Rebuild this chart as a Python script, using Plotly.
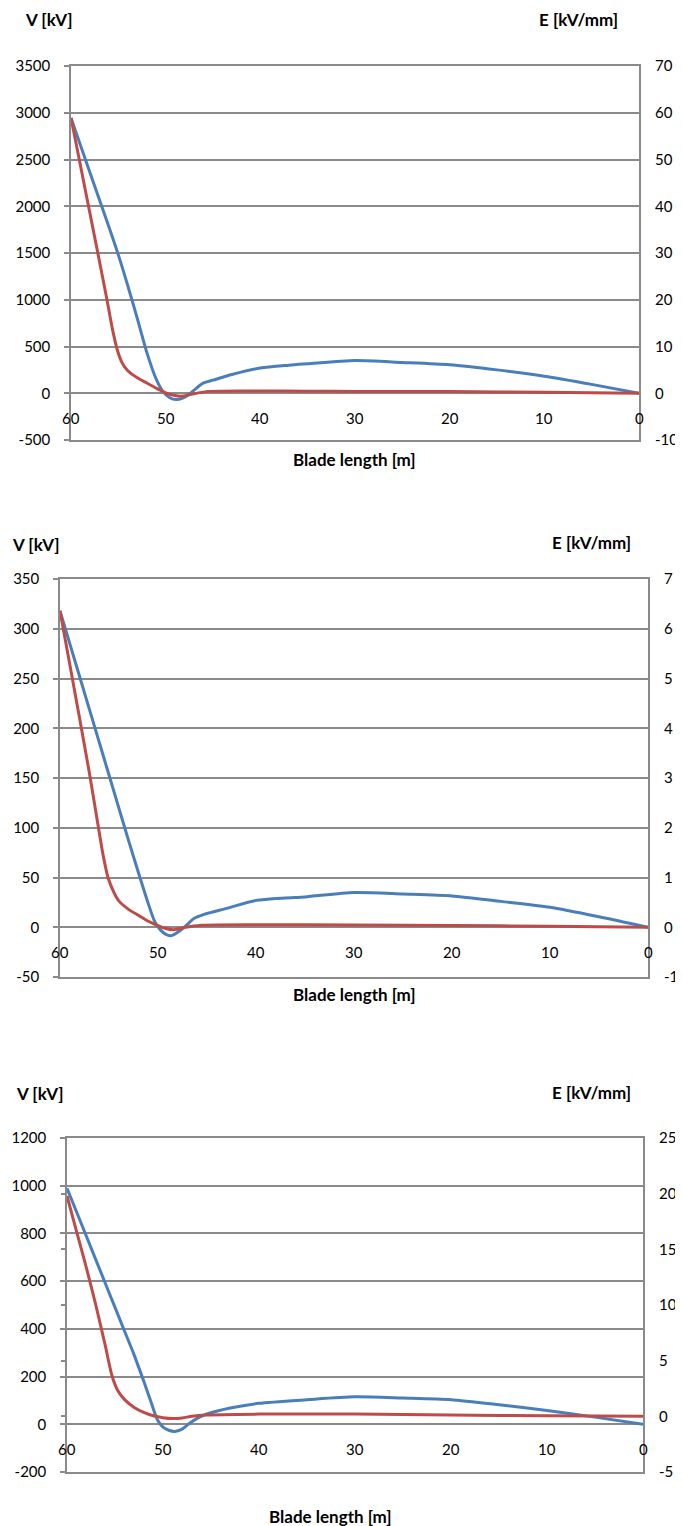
import plotly.graph_objects as go

PAGE_W, PAGE_H = 683, 1526
OFF = 8  # default body margin of the page
W, H = PAGE_W - OFF, PAGE_H - OFF

# ---------------- data ----------------
x_ticks = [60, 50, 40, 30, 20, 10, 0]

# Chart 1
x1_v = [60, 58, 56, 55, 54, 53, 52, 51, 50.3, 49.6, 48.9, 48.2, 47.5, 46.8, 46, 45, 43, 40, 37, 35, 30, 25, 20, 15, 10, 5, 0]
v1 = [2945, 2360, 1780, 1480, 1150, 800, 440, 150, 20, -45, -68, -52, -10, 50, 110, 140, 200, 270, 300, 315, 350, 330, 305, 250, 182, 95, 0]
x1_e = [60, 59, 58, 57, 56.2, 55.6, 55.1, 54.6, 54, 53, 52, 51, 50, 49, 48.2, 47, 45.5, 40, 35, 30, 20, 10, 0]
e1 = [58.9, 48.7, 38.5, 28.3, 20, 13.5, 9.2, 6.5, 4.8, 3.3, 2.2, 1.1, 0.1, -0.5, -0.6, -0.1, 0.4, 0.5, 0.45, 0.4, 0.35, 0.2, 0]

# Chart 2
x2_v = [60, 58, 56, 55, 54, 53, 52, 51, 50.3, 49.5, 48.7, 48, 47.2, 46.3, 45.3, 43, 40, 37, 35, 30, 25, 20, 15, 10, 5, 0]
v2 = [318, 252, 186, 153, 120, 87, 55, 24, 5, -5, -8.5, -5, 1, 9, 13, 19, 27, 29.5, 30.5, 35, 33.5, 31.5, 26, 20, 10.5, 0]
x2_e = [60, 59, 58, 57, 56.2, 55.6, 55.1, 54.5, 54, 53, 52, 51, 50.2, 49.3, 48.4, 47.2, 45.5, 40, 30, 20, 10, 0]
e2 = [6.36, 5.28, 4.2, 3.1, 2.15, 1.45, 1.0, 0.7, 0.53, 0.36, 0.24, 0.12, 0.05, -0.02, -0.05, 0, 0.04, 0.05, 0.045, 0.035, 0.02, 0]

# Chart 3
x3_v = [60, 58, 56, 55, 54, 53, 52, 51.3, 50.6, 50, 49.4, 48.8, 48, 47.2, 46.3, 45.5, 43, 40, 35, 30, 25, 20, 15, 10, 5, 0]
v3 = [989, 790, 590, 490, 390, 290, 180, 100, 20, -12, -25, -30, -20, 5, 28, 42, 68, 88, 103, 115, 110, 103, 82, 58, 30, 0]
x3_e = [60, 59, 58, 57, 56, 55.3, 54.7, 54, 53, 52, 51, 50, 49, 48, 47, 45.5, 40, 30, 20, 10, 0]
e3 = [19.8, 16.6, 13.4, 10.0, 6.3, 3.6, 2.3, 1.5, 0.8, 0.35, 0.05, -0.12, -0.2, -0.15, 0.0, 0.12, 0.2, 0.2, 0.12, 0.05, 0]

left_ticks = [[-500, 0, 500, 1000, 1500, 2000, 2500, 3000, 3500],
              [-50, 0, 50, 100, 150, 200, 250, 300, 350],
              [-200, 0, 200, 400, 600, 800, 1000, 1200]]
right_ticks = [[-10, 0, 10, 20, 30, 40, 50, 60, 70],
               [-1, 0, 1, 2, 3, 4, 5, 6, 7],
               [-5, 0, 5, 10, 15, 20, 25]]

y_title = "V [kV]"
y2_title = "E [kV/mm]"
x_title = "Blade length [m]"

# ---------------- style ----------------
BLUE = "#4a7ebb"
RED = "#be4b48"
GRID = "#8a8a8a"
FONT = "Lato"
FS = 15
TFS = 17

# plot areas in page pixels: (left, right, top, bottom)
boxes = [(71, 639, 66, 440), (60, 648, 579, 977), (67, 643, 1138, 1472)]
titles_pos = [((23, 20), (537, 20)), ((10, 545), (550, 542)), ((14, 1093), (550, 1092))]
xtitle_pos = [(354, 459), (354, 994), (330, 1516)]


def fx(p):
    return (p - OFF) / W


def fy(p):
    return 1 - (p - OFF) / H


def lab(v):
    return str(v)  # ASCII hyphen-minus as in the original


fig = go.Figure()
series = [(x1_v, v1, x1_e, e1), (x2_v, v2, x2_e, e2), (x3_v, v3, x3_e, e3)]

layout = dict(
    width=W, height=H, margin=dict(l=0, r=0, t=0, b=0, autoexpand=False),
    paper_bgcolor="white", plot_bgcolor="white", showlegend=False,
    font=dict(family=FONT, size=FS, color="#000000"),
)
annotations = []

for i, (xv, yv, xe, ye) in enumerate(series):
    xa = "x" if i == 0 else f"x{i+1}"
    ya_l = f"y{2*i+1}" if i > 0 else "y"
    ya_r = f"y{2*i+2}"
    xkey = "xaxis" if i == 0 else f"xaxis{i+1}"
    ykey_l = "yaxis" if i == 0 else f"yaxis{2*i+1}"
    ykey_r = f"yaxis{2*i+2}"
    l, r, t, b = boxes[i]

    fig.add_trace(go.Scatter(x=xv, y=yv, xaxis=xa, yaxis=ya_l, mode="lines",
                             line=dict(color=BLUE, width=3, shape="spline", smoothing=0.7),
                             hoverinfo="skip"))
    fig.add_trace(go.Scatter(x=xe, y=ye, xaxis=xa, yaxis=ya_r, mode="lines",
                             line=dict(color=RED, width=3, shape="spline", smoothing=0.7),
                             hoverinfo="skip"))

    lt = left_ticks[i]
    rt = right_ticks[i]
    layout[xkey] = dict(domain=[fx(l), fx(r)], range=[60, 0], anchor=ya_l,
                        automargin=False,
                        showgrid=False, zeroline=False, showticklabels=False,
                        showline=True, mirror=True, linecolor=GRID, linewidth=1.5,
                        ticks="")
    layout[ykey_l] = dict(domain=[fy(b), fy(t)], range=[lt[0], lt[-1]],
                          tickvals=lt, ticktext=[lab(v) for v in lt],
                          anchor=xa, automargin=False,
                          showgrid=True, gridcolor=GRID, gridwidth=1.5,
                          zeroline=False, showline=True, mirror=True, linecolor=GRID,
                          linewidth=1.5, ticks="outside", ticklen=5, tickcolor=GRID,
                          tickwidth=1.5, ticklabelstandoff=11,
                          tickfont=dict(family=FONT, size=FS, color="#000000"))
    layout[ykey_r] = dict(range=[rt[0], rt[-1]], tickvals=rt, ticktext=[lab(v) for v in rt],
                          anchor=xa, automargin=False,
                          overlaying=ya_l, side="right", showgrid=False, zeroline=False,
                          showline=False, ticks="", ticklabelstandoff=15,
                          tickfont=dict(family=FONT, size=FS, color="#000000"))

    for xt in x_ticks:
        annotations.append(dict(x=xt, y=0, xref=xa, yref=ya_l, text=str(xt),
                                showarrow=False, yanchor="middle", xanchor="center",
                                yshift=-25, font=dict(family=FONT, size=FS, color="#000000")))

    (vx, vy), (ex, ey) = titles_pos[i]
    annotations.append(dict(x=fx(vx), y=fy(vy), xref="paper", yref="paper",
                            text=f"<b>{y_title}</b>", showarrow=False,
                            xanchor="left", yanchor="middle",
                            font=dict(family=FONT, size=TFS, color="#000000")))
    annotations.append(dict(x=fx(ex), y=fy(ey), xref="paper", yref="paper",
                            text=f"<b>{y2_title}</b>", showarrow=False,
                            xanchor="left", yanchor="middle",
                            font=dict(family=FONT, size=TFS, color="#000000")))
    tx, ty = xtitle_pos[i]
    annotations.append(dict(x=fx(tx), y=fy(ty), xref="paper", yref="paper",
                            text=f"<b>{x_title}</b>", showarrow=False,
                            xanchor="center", yanchor="middle",
                            font=dict(family=FONT, size=TFS, color="#000000")))

# extra tick marks on left axis of the third chart at the secondary-axis positions
rt = right_ticks[2]
layout["yaxis7"] = dict(range=[rt[0], rt[-1]], tickvals=rt, anchor="x3", automargin=False,
                        overlaying="y5", side="left", showgrid=False, zeroline=False,
                        showline=False, showticklabels=False, ticks="outside",
                        ticklen=5, tickcolor=GRID, tickwidth=1.5)
fig.add_trace(go.Scatter(x=[None], y=[None], xaxis="x3", yaxis="y7", showlegend=False,
                         hoverinfo="skip"))

layout["annotations"] = annotations
fig.update_layout(**layout)
fig.write_html("out.html")
